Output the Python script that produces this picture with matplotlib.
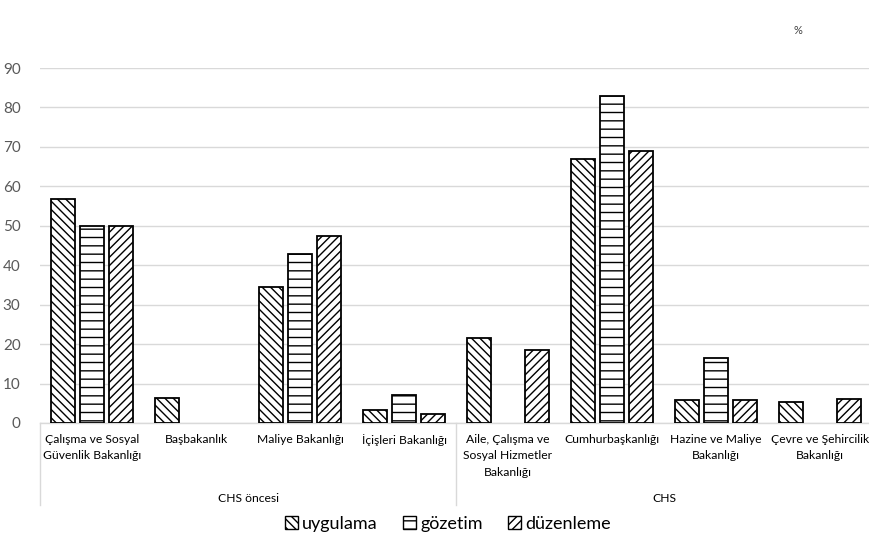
import numpy as np
import matplotlib
matplotlib.use("Agg")
import matplotlib.pyplot as plt
from matplotlib.patches import Patch
from matplotlib.transforms import blended_transform_factory

plt.rcParams['font.family'] = ['Lato', 'DejaVu Sans']
plt.rcParams['hatch.linewidth'] = 1.0

categories = ["Çalışma ve Sosyal\nGüvenlik Bakanlığı", "Başbakanlık", "Maliye Bakanlığı",
              "İçişleri Bakanlığı", "Aile, Çalışma ve\nSosyal Hizmetler\nBakanlığı",
              "Cumhurbaşkanlığı", "Hazine ve Maliye\nBakanlığı", "Çevre ve Şehircilik\nBakanlığı"]
groups = ["CHS öncesi", "CHS"]
group_sizes = [4, 4]
series_names = ["uygulama", "gözetim", "düzenleme"]
uygulama = [56.9, 6.3, 34.4, 3.3, 21.5, 66.9, 5.9, 5.3]
gozetim = [50.0, np.nan, 42.9, 7.2, np.nan, 82.8, 16.6, np.nan]
duzenleme = [50.0, np.nan, 47.5, 2.4, 18.6, 68.9, 5.9, 6.2]
yticks = [0, 10, 20, 30, 40, 50, 60, 70, 80, 90]

series = [uygulama, gozetim, duzenleme]
hatches = ['\\\\\\\\', '--', '////']

fig = plt.figure(figsize=(8.69, 5.42), dpi=100)
ax = fig.add_axes([40/869, 119/542, 832/869, 355/542])

x = np.arange(len(categories))
w = 0.23
offs = [-0.28, 0.0, 0.28]
for vals, h, off, name in zip(series, hatches, offs, series_names):
    v = np.array(vals, dtype=float)
    m = ~np.isnan(v)
    ax.bar(x[m] + off, v[m], width=w, color='white', edgecolor='black',
           linewidth=1.3, hatch=h, label=name, zorder=3)

ax.set_xlim(-0.5, len(categories) - 0.5)
ax.set_ylim(0, 90)
ax.set_yticks(yticks)
ax.tick_params(axis='y', length=0, labelsize=11, labelcolor='#595959', pad=14)
ax.set_xticks([])
ax.grid(axis='y', color='#d9d9d9', linewidth=1.0, zorder=0)
for s in ['top', 'right', 'left']:
    ax.spines[s].set_visible(False)
ax.spines['bottom'].set_color('#d9d9d9')
ax.spines['bottom'].set_linewidth(1.0)

tr = blended_transform_factory(ax.transData, ax.transAxes)
csize = 8.7
for i, c in enumerate(categories):
    ax.text(i, -0.03, c, transform=tr, ha='center', va='top', fontsize=csize,
            color='#000000', linespacing=1.62)

# group labels and separators
start = 0
bounds = [-0.5]
for g, n in zip(groups, group_sizes):
    center = start + (n - 1) / 2
    ax.text(center, -0.212, g, transform=tr, ha='center', va='center', fontsize=csize)
    start += n
    bounds.append(start - 0.5)
for b in bounds:
    ax.plot([b, b], [0, -0.231], transform=tr, color='#d9d9d9', linewidth=1.0,
            clip_on=False)

handles = [Patch(facecolor='white', edgecolor='black', hatch=h, linewidth=1.0)
           for h in hatches]
fig.legend(handles, series_names, loc='center', bbox_to_anchor=(448/869, 1 - 524/542),
           ncol=3, frameon=False, fontsize=13, handlelength=0.7, handleheight=0.7,
           handletextpad=0.25, columnspacing=1.4)

fig.text(798/869, 1 - 31/542, '%', ha='center', va='center', fontsize=8, color='#404040')

fig.savefig('out.png', dpi=100)
